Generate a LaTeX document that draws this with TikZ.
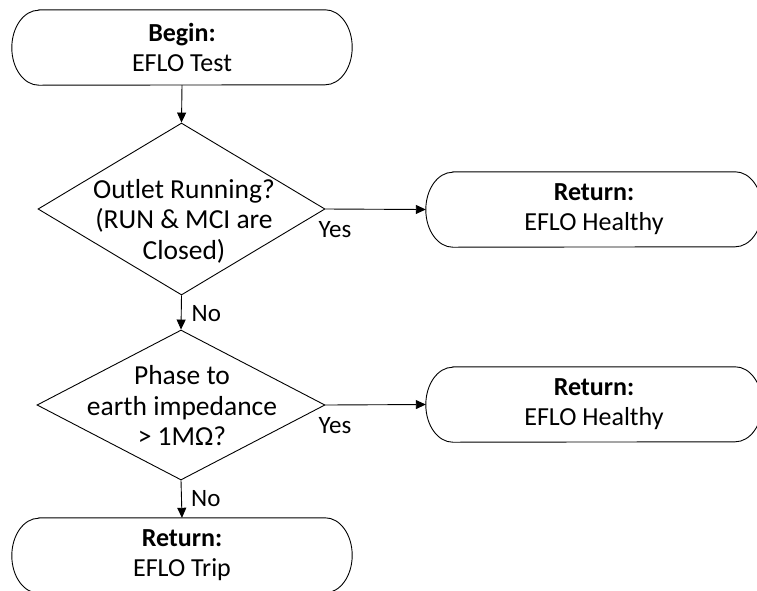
\documentclass[tikz,border=0pt]{standalone}
\usepackage{fontspec}
\setmainfont{Carlito}
\usetikzlibrary{shapes.geometric,arrows.meta}

% outline of a terminator: straight top and bottom, half-ellipse ends
\newcommand\termoutline[1]{%
  \draw[outline] ([xshift=27pt]#1.north west) -- ([xshift=-27pt]#1.north east)
    arc[start angle=90,end angle=-90,x radius=27pt,y radius=37.5pt]
    -- ([xshift=27pt]#1.south west)
    arc[start angle=270,end angle=90,x radius=27pt,y radius=37.5pt] -- cycle;}

\begin{document}
\begin{tikzpicture}[x=1pt,y=-1pt,
  outline/.style={line width=0.9pt,black},
  termtxt/.style={align=center,inner sep=0pt,font=\fontsize{26}{30}\selectfont},
  decisiontxt/.style={align=center,inner sep=0pt,font=\fontsize{27.5}{30.5}\selectfont},
  terminal/.style={termtxt,minimum height=75pt},
  decision/.style={draw,line width=0.9pt,diamond,inner sep=0pt},
  flow/.style={line width=0.9pt,-{Triangle[length=10pt,width=9pt]}},
  answer/.style={anchor=base west,inner sep=0pt,font=\fontsize{25}{30}\selectfont}]
\useasboundingbox (0,0) rectangle (757,590);
\clip (0,0) rectangle (757,590);

% start and end points
\node[terminal,minimum width=340pt] (begin) at (182,47.5) {\textbf{Begin:}\\EFLO Test};
\termoutline{begin}
\node[terminal,minimum width=336pt] (healthyA) at (594,209.5) {\textbf{Return:}\\EFLO Healthy};
\termoutline{healthyA}
\node[terminal,minimum width=336pt] (healthyB) at (594,404.5) {\textbf{Return:}\\EFLO Healthy};
\termoutline{healthyB}
\node[terminal,minimum width=340pt] (trip) at (182,555.5) {\textbf{Return:}\\EFLO Trip};
\termoutline{trip}

% decisions
\node[decision,minimum width=287pt,minimum height=172pt] (running) at (181.5,209) {};
\node[decisiontxt] (runningtext) at (184,221) {Outlet Running?\\(RUN \& MCI are\\Closed)};
\node[decision,minimum width=288pt,minimum height=150pt] (imped) at (181,405) {};
\node[decisiontxt] (impedtext) at (182,406) {Phase to\\earth impedance\\> 1MΩ?};

% connectors
\draw[flow] (begin.south) -- (running.north);
\draw[flow] (running.east) -- (healthyA.west);
\draw[flow] (running.south) -- (imped.north);
\draw[flow] (imped.east) -- (healthyB.west);
\draw[flow] (imped.south) -- (trip.north);

% branch labels
\node[answer] (yesA) at ([shift={(-7,28)}]running.east) {Yes};
\node[answer] (noA) at ([shift={(10,26)}]running.south) {No};
\node[answer] (yesB) at ([shift={(-7,28)}]imped.east) {Yes};
\node[answer] (noB) at ([shift={(10,26)}]imped.south) {No};
\end{tikzpicture}
\end{document}
